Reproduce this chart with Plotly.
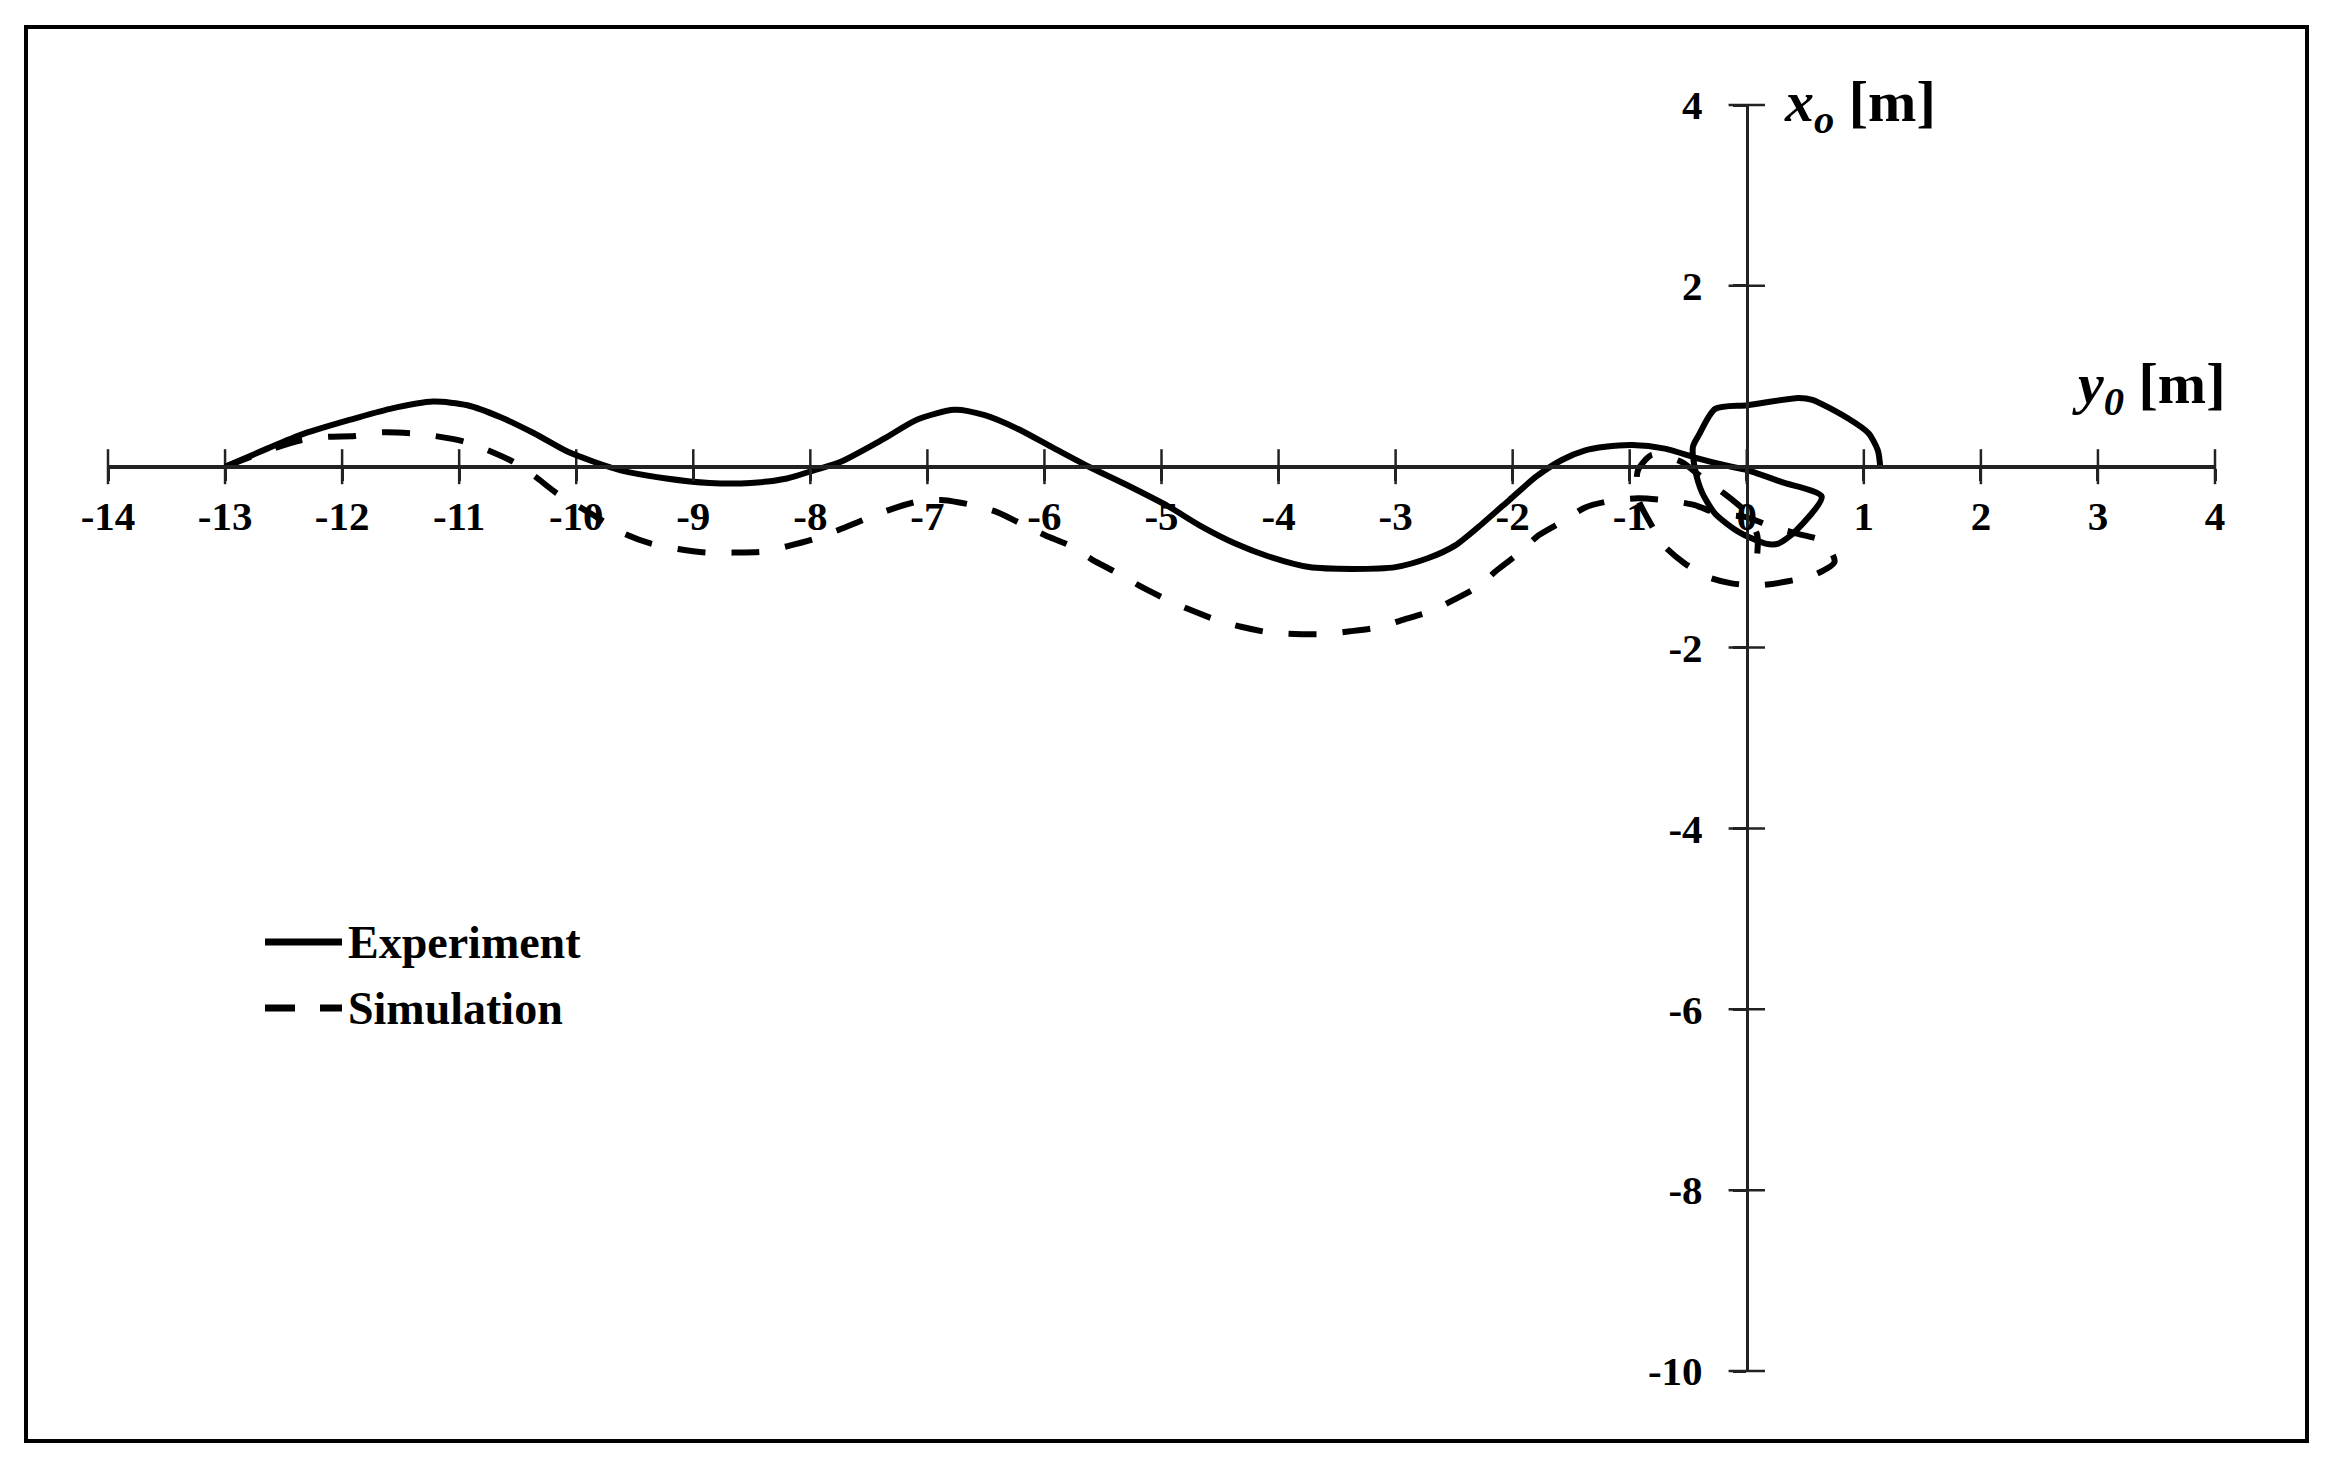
import plotly.graph_objects as go

# ---------------- data ----------------
exp_y0 = [-13.0, -12.64, -12.36, -11.93, -11.59, -11.22, -10.93, -10.65, -10.36, -10.08, -9.85,
          -9.62, -9.23, -8.86, -8.51, -8.2, -7.97, -7.74, -7.37, -7.09, -6.77, -6.51, -6.23,
          -5.94, -5.62, -5.3, -4.94, -4.66, -4.37, -4.09, -3.74, -3.37, -3.0, -2.72, -2.49,
          -2.26, -2.03, -1.8, -1.58, -1.38, -1.21, -0.98, -0.7, -0.41, -0.13, 0.01, 0.3, 0.64,
          0.41, 0.27, 0.16, -0.07, -0.27, -0.38, -0.44, -0.46, -0.41, -0.27, 0.01, 0.44, 0.56,
          0.87, 1.04, 1.12, 1.14]
exp_x0 = [0.0, 0.2, 0.35, 0.52, 0.64, 0.72, 0.68, 0.55, 0.37, 0.17, 0.055,
          -0.04, -0.13, -0.18, -0.18, -0.13, -0.04, 0.055, 0.31, 0.52, 0.63, 0.57, 0.42,
          0.22, 0.0, -0.2, -0.44, -0.66, -0.85, -0.99, -1.11, -1.13, -1.11, -1.01, -0.87,
          -0.63, -0.37, -0.11, 0.074, 0.18, 0.22, 0.24, 0.2, 0.09, 0.0, -0.04, -0.17, -0.33,
          -0.72, -0.85, -0.85, -0.72, -0.52, -0.29, -0.04, 0.22, 0.35, 0.64, 0.68, 0.76, 0.74,
          0.53, 0.37, 0.18, 0.0]

sim_y0 = [-13.0, -12.8, -12.59, -12.36, -12.13, -11.89, -11.66, -11.42, -11.21, -10.96, -10.75,
          -10.54, -10.35, -10.17, -9.86, -9.59, -9.36, -9.13, -8.89, -8.66, -8.41, -8.2, -7.97,
          -7.76, -7.53, -7.33, -7.1, -6.86, -6.63, -6.41, -6.2, -5.99, -5.77, -5.59, -5.37,
          -5.17, -4.97, -4.76, -4.54, -4.32, -4.09, -3.86, -3.62, -3.39, -3.16, -2.93, -2.7,
          -2.5, -2.3, -2.13, -1.95, -1.78, -1.58, -1.38, -1.17, -0.93, -0.7, -0.46, -0.24,
          0.0, 0.21, 0.43, 0.66, 0.75, 0.57, 0.34, 0.11, -0.13, -0.33, -0.53, -0.71, -0.83,
          -0.93, -0.93, -0.81, -0.56, -0.41, -0.2, -0.01, 0.09, 0.09]
sim_x0 = [0.0, 0.1, 0.2, 0.29, 0.33, 0.34, 0.38, 0.37, 0.34, 0.28, 0.18,
          0.055, -0.11, -0.29, -0.53, -0.74, -0.85, -0.91, -0.95, -0.95, -0.94, -0.88, -0.8,
          -0.7, -0.58, -0.48, -0.39, -0.37, -0.42, -0.5, -0.63, -0.76, -0.88, -1.03, -1.18,
          -1.33, -1.46, -1.58, -1.69, -1.77, -1.83, -1.85, -1.85, -1.82, -1.78, -1.69, -1.6,
          -1.47, -1.33, -1.14, -0.96, -0.76, -0.61, -0.45, -0.38, -0.35, -0.37, -0.42, -0.52,
          -0.56, -0.66, -0.74, -0.83, -1.05, -1.2, -1.27, -1.31, -1.29, -1.22, -1.07, -0.87, -0.61,
          -0.35, -0.04, 0.13, 0.055, -0.09, -0.29, -0.5, -0.76, -0.96]

x_ticks = list(range(-14, 5))
x_ticktext = [str(v) for v in x_ticks]
y_ticks = [4, 2, -2, -4, -6, -8, -10]
y_ticktext = [str(v) for v in y_ticks]

series_names = ["Experiment", "Simulation"]

# ---------------- figure ----------------
W, H = 2337, 1465
ML, MR, MT, MB = 108, 122, 105, 94
PW, PH = W - ML - MR, H - MT - MB
FONT = "Liberation Serif"
AXC = "#222222"


def px_to_paper_x(px):
    return (px - ML) / PW


def px_to_paper_y(py):
    return (H - MB - py) / PH


fig = go.Figure()

# crossing tick marks on both axes (the axes cross at the origin)
fig.add_trace(go.Scatter(x=x_ticks, y=[0] * len(x_ticks), mode="markers", cliponaxis=False,
                         marker=dict(symbol="line-ns", size=25,
                                     line=dict(color=AXC, width=2.5)),
                         showlegend=False, hoverinfo="skip"))
fig.add_trace(go.Scatter(x=[0] * len(y_ticks), y=y_ticks, mode="markers", cliponaxis=False,
                         marker=dict(symbol="line-ew", size=26,
                                     line=dict(color=AXC, width=2.5)),
                         showlegend=False, hoverinfo="skip"))

fig.add_trace(go.Scatter(x=sim_y0, y=sim_x0, mode="lines", name=series_names[1],
                         line=dict(color="black", width=6, dash="28px,26px",
                                   shape="spline", smoothing=0.7),
                         showlegend=False, hoverinfo="skip"))
fig.add_trace(go.Scatter(x=exp_y0, y=exp_x0, mode="lines", name=series_names[0],
                         line=dict(color="black", width=6, shape="spline", smoothing=0.7),
                         showlegend=False, hoverinfo="skip"))

xr = [-14, 4]
yr = [-10, 4]
xpos = (0 - yr[0]) / (yr[1] - yr[0])
ypos = (0 - xr[0]) / (xr[1] - xr[0])

fig.update_layout(
    width=W, height=H,
    margin=dict(l=ML, r=MR, t=MT, b=MB, pad=0),
    paper_bgcolor="white", plot_bgcolor="white",
    template="none",
    showlegend=False,
    font=dict(family=FONT, color="black"),
    xaxis=dict(range=xr, anchor="free", position=xpos, showline=True, linecolor=AXC,
               linewidth=4, ticks="outside", ticklen=12, tickwidth=2.5, tickcolor=AXC,
               tickmode="array", tickvals=x_ticks, ticktext=x_ticktext,
               tickfont=dict(family=FONT, size=41, color="black", weight="bold"),
               showgrid=False, zeroline=False, fixedrange=True),
    yaxis=dict(range=yr, anchor="free", position=ypos, showline=True, linecolor=AXC,
               linewidth=3, ticks="outside", ticklen=13, tickwidth=2.5, tickcolor=AXC,
               tickmode="array", tickvals=y_ticks, ticktext=y_ticktext,
               ticklabelstandoff=22,
               tickfont=dict(family=FONT, size=41, color="black", weight="bold"),
               showgrid=False, zeroline=False, fixedrange=True),
)

# axis titles
fig.add_annotation(x=0.3, y=4, xref="x", yref="y", xanchor="left", yanchor="middle",
                   text="<i>x<sub>o</sub></i> [m]", showarrow=False,
                   font=dict(family=FONT, size=58, color="black", weight="bold"))
fig.add_annotation(x=2.76, y=0.88, xref="x", yref="y", xanchor="left", yanchor="middle",
                   text="<i>y<sub>0</sub></i> [m]", showarrow=False,
                   font=dict(family=FONT, size=58, color="black", weight="bold"))

# outer frame
fig.add_shape(type="rect", xref="paper", yref="paper",
              x0=px_to_paper_x(26), x1=px_to_paper_x(2307),
              y0=px_to_paper_y(1441), y1=px_to_paper_y(27),
              line=dict(color="black", width=4), fillcolor="rgba(0,0,0,0)", layer="above")

# legend (drawn manually so the line samples have the reference length)
leg_rows = [(942, "solid"), (1008, "30px,25px")]
for (py, dash), name in zip(leg_rows, series_names):
    fig.add_shape(type="line", xref="paper", yref="paper",
                  x0=px_to_paper_x(265), x1=px_to_paper_x(342),
                  y0=px_to_paper_y(py), y1=px_to_paper_y(py),
                  line=dict(color="black", width=7, dash=dash))
    fig.add_annotation(x=px_to_paper_x(346), y=px_to_paper_y(py), xref="paper", yref="paper",
                       xanchor="left", yanchor="middle", text=name, showarrow=False,
                       font=dict(family=FONT, size=46, color="black", weight="bold"))

fig.write_html("out.html", config={"displayModeBar": False},
               post_script="document.body.style.margin='0';")
